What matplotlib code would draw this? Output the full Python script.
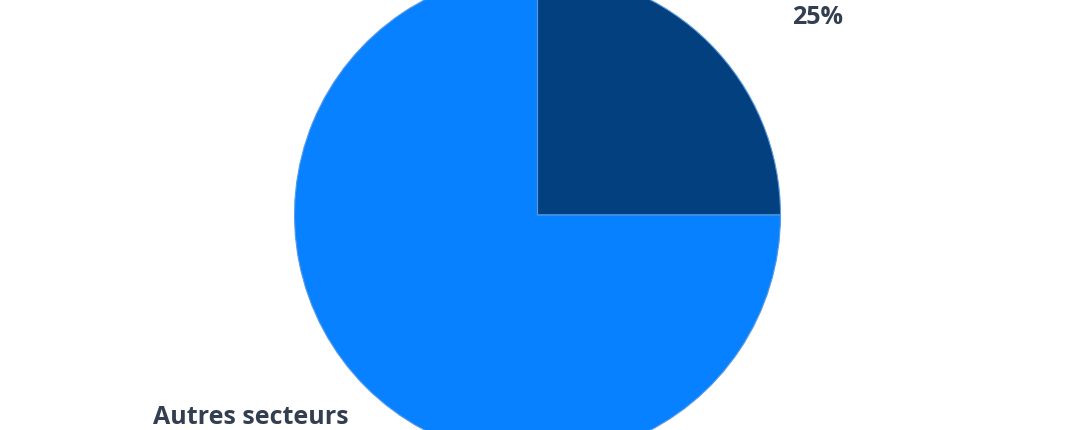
import matplotlib
matplotlib.use("Agg")
import matplotlib.pyplot as plt

labels = ["Secteur", "Autres secteurs"]
values = [25, 75]
colors = ["#02407F", "#0781FF"]

W, H = 1076, 430
fig = plt.figure(figsize=(W / 100, H / 100), dpi=100)
ax = fig.add_axes([0, 0, 1, 1])
ax.set_xlim(0, W)
ax.set_ylim(0, H)
ax.set_aspect("equal")
ax.axis("off")

ax.pie(values, colors=colors, startangle=90, counterclock=False,
       center=(537.5, H - 215), radius=243,
       wedgeprops=dict(edgecolor="#5A9BE0", linewidth=0.8))
ax.set_xlim(0, W)
ax.set_ylim(0, H)

txt_color = "#333F50"
ax.text(818, H - 17, f"{values[0]}%", ha="center", va="center",
        fontsize=18, fontweight="bold", color=txt_color, family="Open Sans")
ax.text(153, H - 418, labels[1], ha="left", va="center",
        fontsize=18, fontweight="bold", color=txt_color, family="Open Sans")

fig.savefig("out.png", dpi=100)
